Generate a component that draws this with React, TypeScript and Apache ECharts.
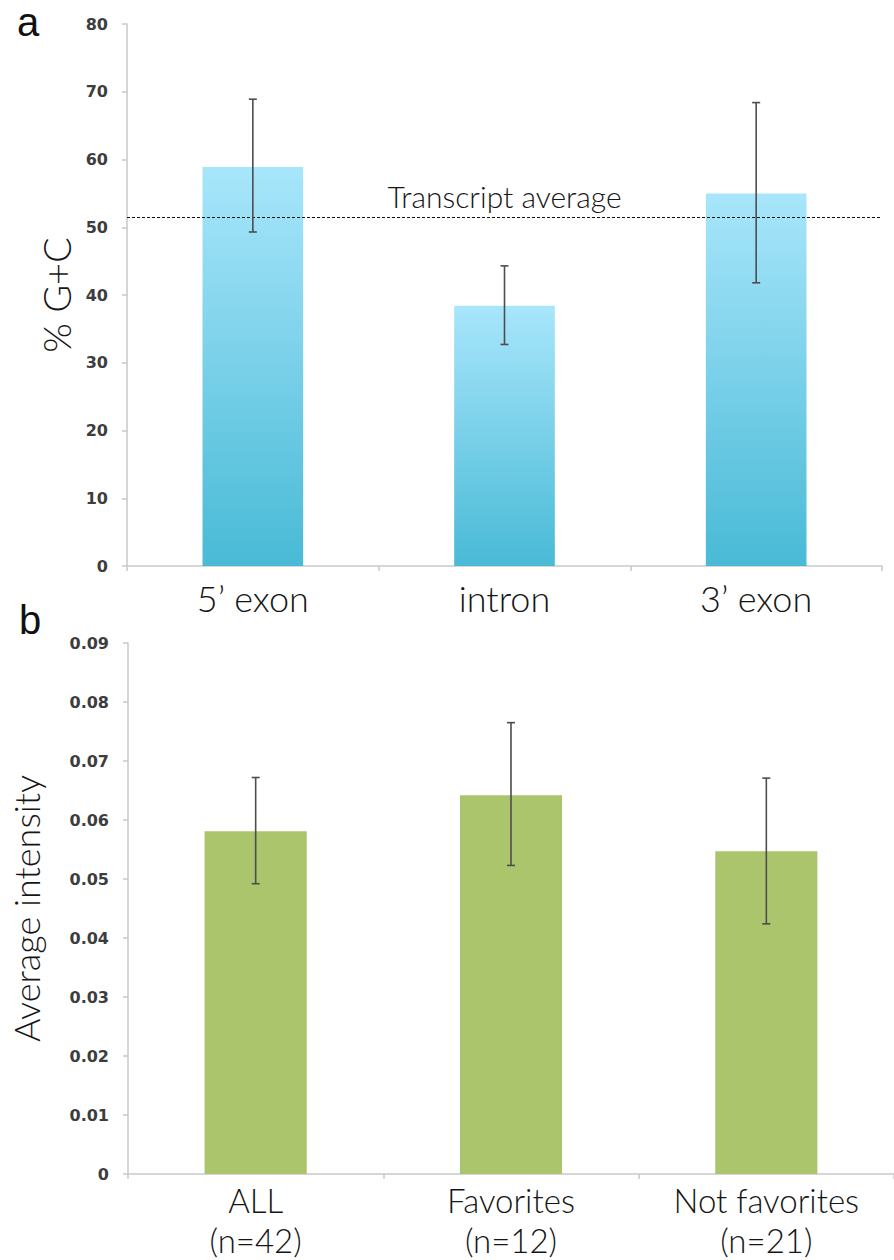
import React, { useEffect, useRef } from 'react';
import * as echarts from 'echarts';

// Panel a: % G+C
const gcCategories = ['5’ exon', 'intron', '3’ exon'];
const gcValues = [58.9, 38.4, 55.0];
const gcErrLow = [49.3, 32.7, 41.8];
const gcErrHigh = [68.9, 44.3, 68.4];
const transcriptAverage = 51.5;
const gcAxisMin = 0;
const gcAxisMax = 80;
const gcAxisStep = 10;

// Panel b: Average intensity
const intCategories = ['ALL\n(n=42)', 'Favorites\n(n=12)', 'Not favorites\n(n=21)'];
const intValues = [0.0581, 0.0642, 0.0547];
const intErrLow = [0.0492, 0.0523, 0.0424];
const intErrHigh = [0.0672, 0.0765, 0.0671];
const intAxisMin = 0;
const intAxisMax = 0.09;
const intAxisStep = 0.01;

const lightFont = 'Lato';
const tickFont = 'DejaVu Sans';

function errorRender(params: any, api: any) {
  const x = api.value(0);
  const lo = api.coord([x, api.value(1)]);
  const hi = api.coord([x, api.value(2)]);
  const cap = 4;
  const style = { stroke: '#4d4d4d', lineWidth: 1.6 };
  return {
    type: 'group',
    children: [
      { type: 'line', shape: { x1: lo[0], y1: lo[1], x2: hi[0], y2: hi[1] }, style },
      { type: 'line', shape: { x1: lo[0] - cap, y1: lo[1], x2: lo[0] + cap, y2: lo[1] }, style },
      { type: 'line', shape: { x1: hi[0] - cap, y1: hi[1], x2: hi[0] + cap, y2: hi[1] }, style },
    ],
  };
}

const axisLineStyle = { color: '#c9c9c9', width: 1.5 };

export default function App() {
  const ref = useRef<HTMLDivElement>(null);
  useEffect(() => {
    if (!ref.current) return;
    const chart = echarts.init(ref.current, null, { renderer: 'svg' });
    const yLabel = {
      fontFamily: tickFont,
      fontWeight: 'bold' as const,
      fontSize: 16,
      color: '#3d3d3d',
      margin: 19,
    };
    chart.setOption({
      animation: false,
      backgroundColor: '#ffffff',
      grid: [
        { left: 127, top: 24, width: 755, height: 542 },
        { left: 127, top: 643, width: 774, height: 534 },
      ],
      graphic: [
        {
          type: 'text',
          left: 17,
          top: 2,
          style: { text: 'a', font: '40px "Liberation Sans", Arial, sans-serif', fill: '#111' },
        },
        {
          type: 'text',
          left: 19,
          top: 600,
          style: { text: 'b', font: '40px "Liberation Sans", Arial, sans-serif', fill: '#111' },
        },
      ],
      xAxis: [
        {
          type: 'category',
          gridIndex: 0,
          data: gcCategories,
          axisLine: { lineStyle: axisLineStyle },
          axisTick: { show: true, length: 5, lineStyle: axisLineStyle },
          axisLabel: {
            fontFamily: lightFont,
            fontWeight: 300,
            fontSize: 36,
            color: '#151515',
            margin: 14,
          },
        },
        {
          type: 'category',
          gridIndex: 1,
          data: intCategories,
          axisLine: { lineStyle: axisLineStyle },
          axisTick: { show: true, length: 5, lineStyle: axisLineStyle },
          axisLabel: {
            fontFamily: lightFont,
            fontWeight: 300,
            fontSize: 33,
            lineHeight: 40,
            color: '#151515',
            margin: 6,
          },
        },
      ],
      yAxis: [
        {
          type: 'value',
          gridIndex: 0,
          min: gcAxisMin,
          max: gcAxisMax,
          interval: gcAxisStep,
          name: '% G+C',
          nameLocation: 'middle',
          nameGap: 50,
          nameTextStyle: { fontFamily: lightFont, fontWeight: 300, fontSize: 38, color: '#151515' },
          axisLine: { show: true, lineStyle: axisLineStyle },
          axisTick: { show: true, length: 5, lineStyle: axisLineStyle },
          splitLine: { show: false },
          axisLabel: yLabel,
        },
        {
          type: 'value',
          gridIndex: 1,
          min: intAxisMin,
          max: intAxisMax,
          interval: intAxisStep,
          name: 'Average intensity',
          nameLocation: 'middle',
          nameGap: 84,
          nameTextStyle: { fontFamily: lightFont, fontWeight: 300, fontSize: 36, color: '#151515' },
          axisLine: { show: true, lineStyle: axisLineStyle },
          axisTick: { show: true, length: 5, lineStyle: axisLineStyle },
          splitLine: { show: false },
          axisLabel: { ...yLabel, formatter: (v: number) => (v === 0 ? '0' : v.toFixed(2)) },
        },
      ],
      series: [
        {
          type: 'bar',
          xAxisIndex: 0,
          yAxisIndex: 0,
          data: gcValues,
          barWidth: '40%',
          itemStyle: {
            color: new echarts.graphic.LinearGradient(0, 0, 0, 1, [
              { offset: 0, color: '#a8e6fb' },
              { offset: 1, color: '#49bad6' },
            ]),
          },
          markLine: {
            silent: true,
            symbol: 'none',
            lineStyle: { color: '#111', width: 1.2, type: [3, 2] },
            label: {
              show: true,
              position: 'insideMiddleTop',
              formatter: 'Transcript average',
              fontFamily: lightFont,
              fontWeight: 300,
              fontSize: 30,
              color: '#151515',
              distance: 6,
            },
            data: [{ yAxis: transcriptAverage }],
          },
        },
        {
          type: 'custom',
          xAxisIndex: 0,
          yAxisIndex: 0,
          renderItem: errorRender,
          encode: { x: 0, y: [1, 2] },
          data: gcCategories.map((_, i) => [i, gcErrLow[i], gcErrHigh[i]]),
          z: 5,
        },
        {
          type: 'bar',
          xAxisIndex: 1,
          yAxisIndex: 1,
          data: intValues,
          barWidth: '40%',
          itemStyle: { color: '#abc56d' },
        },
        {
          type: 'custom',
          xAxisIndex: 1,
          yAxisIndex: 1,
          renderItem: errorRender,
          encode: { x: 0, y: [1, 2] },
          data: intCategories.map((_, i) => [i, intErrLow[i], intErrHigh[i]]),
          z: 5,
        },
      ],
    });
    return () => chart.dispose();
  }, []);
  return (
    <div
      ref={ref}
      style={{ position: 'absolute', left: 0, top: 0, width: 894, height: 1260, background: '#fff' }}
    />
  );
}
